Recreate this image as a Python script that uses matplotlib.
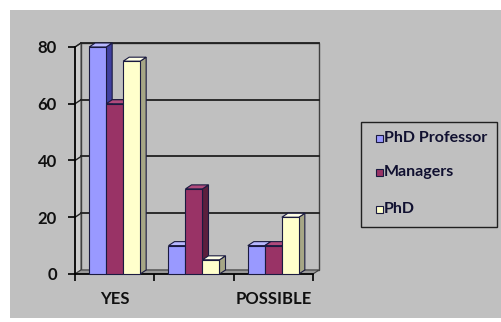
import numpy as np
import matplotlib.pyplot as plt
from matplotlib.patches import Polygon, Rectangle

plt.rcParams['font.family'] = ['Lato', 'DejaVu Sans']

# Data
categories = ['YES', '', 'POSSIBLE']
series = ['PhD Professor', 'Managers', 'PhD']
phd_professor = [80, 10, 10]
managers = [60, 30, 10]
phd = [75, 5, 20]
values = [phd_professor, managers, phd]
yticks = [0, 20, 40, 60, 80]

# colours: front, top, side
front_cols = ['#9999FF', '#993366', '#FFFFCC']
top_cols = ['#B8B8FF', '#B04A7C', '#FFFFE6']
side_cols = ['#4040A0', '#5C1F3D', '#A6A685']
edge = '#1A1A40'
bg = '#C0C0C0'

W, H = 502, 322
fig = plt.figure(figsize=(W / 100, H / 100), dpi=100)

# pixel-space background axes
bgax = fig.add_axes([0, 0, 1, 1])
bgax.set_xlim(0, W)
bgax.set_ylim(H, 0)
bgax.axis('off')
bgax.add_patch(Rectangle((10, 10), 492, 308, facecolor=bg, edgecolor='none'))

# main plot axes (front plane)
x0, x1, y0, y1 = 75, 313, 274, 47
ax = fig.add_axes([x0 / W, (H - y0) / H, (x1 - x0) / W, (y0 - y1) / H])
ax.patch.set_alpha(0)
ax.set_xlim(-0.5, 2.5)
ax.set_ylim(0, 80)
for s in ['top', 'right']:
    ax.spines[s].set_visible(False)
ax.spines['left'].set_color('black')
ax.spines['bottom'].set_color('black')
ax.spines['left'].set_linewidth(1.2)
ax.spines['bottom'].set_linewidth(1.2)

# depth offset in data units
dx = 6 * 3 / (x1 - x0)
dy = 4 * 80 / (y0 - y1)

def poly(pts, fc, z, lw=0.8, ec=edge):
    ax.add_patch(Polygon(pts, closed=True, facecolor=fc, edgecolor=ec,
                         linewidth=lw, zorder=z, clip_on=False))

# walls and floor
poly([(-0.5 + dx, dy), (2.5 + dx, dy), (2.5 + dx, 80 + dy), (-0.5 + dx, 80 + dy)],
     bg, 1, lw=1.0, ec='#404040')
poly([(-0.5, 0), (-0.5 + dx, dy), (-0.5 + dx, 80 + dy), (-0.5, 80)],
     '#CDCDCD', 1, lw=0.8, ec='#404040')
poly([(-0.5, 0), (2.5, 0), (2.5 + dx, dy), (-0.5 + dx, dy)],
     '#9A9A9A', 1, lw=0.8, ec='#404040')

# gridlines
for v in yticks[1:]:
    ax.plot([-0.5 + dx, 2.5 + dx], [v + dy, v + dy], color='#202020', lw=1.3,
            zorder=2, clip_on=False)
    ax.plot([-0.5, -0.5 + dx], [v, v + dy], color='#202020', lw=1.0,
            zorder=2, clip_on=False)

# bars
w = 17 * 3 / (x1 - x0)
z = 3
for ci in range(len(categories)):
    for si in range(len(series)):
        h = values[si][ci]
        left = ci - 1.5 * w + si * w
        right = left + w
        poly([(right, 0), (right + dx, dy), (right + dx, h + dy), (right, h)],
             side_cols[si], z)
        poly([(left, h), (right, h), (right + dx, h + dy), (left + dx, h + dy)],
             top_cols[si], z)
        poly([(left, 0), (right, 0), (right, h), (left, h)], front_cols[si], z)
        z += 1

ax.set_yticks(yticks)
ax.set_yticklabels([str(v) for v in yticks], fontsize=12, fontweight='bold',
                   color='#101010')
ax.tick_params(axis='y', length=5, width=1.2, pad=8)
ax.set_xticks([-0.5, 0.5, 1.5, 2.5])
ax.set_xticklabels([])
ax.tick_params(axis='x', which='major', length=5, width=1.2)
ax.set_xticks([0, 1, 2], minor=True)
ax.set_xticklabels(categories, minor=True, fontsize=12, fontweight='bold',
                   color='#101010')
ax.tick_params(axis='x', which='minor', length=0, pad=12)

# legend
bgax.add_patch(Rectangle((361, 122), 136, 105, facecolor=bg, edgecolor='#202020',
                         linewidth=1.0))
for i, (name, y) in enumerate(zip(series, [138, 172, 209])):
    bgax.add_patch(Rectangle((376, y - 3.5), 7, 7, facecolor=front_cols[i],
                             edgecolor=edge, linewidth=0.8))
    bgax.text(384, y, name, fontsize=11.5, fontweight='bold', color='#101030',
              va='center', ha='left')

fig.savefig('out.png', dpi=100)
